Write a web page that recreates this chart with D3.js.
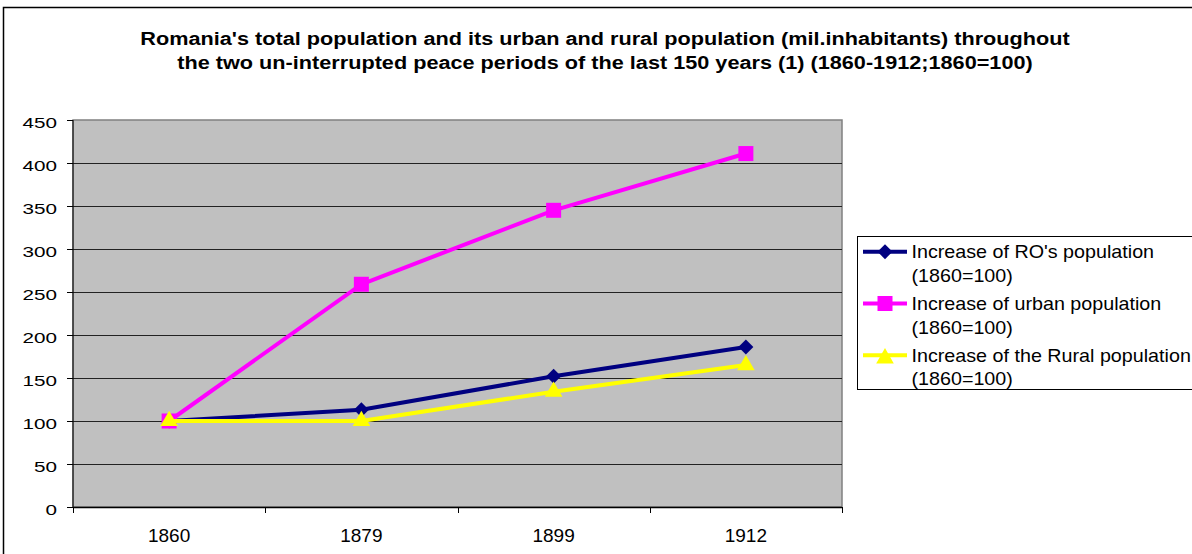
<!DOCTYPE html>
<html>
<head>
<meta charset="utf-8">
<script src="https://cdn.jsdelivr.net/npm/d3@7"></script>
<style>
  html, body { margin: 0; padding: 0; background: #fff; }
  svg { display: block; font-family: "Liberation Sans", Arial, sans-serif; }
</style>
</head>
<body>
<svg id="chart" width="1192" height="554"></svg>
<script>
// Population indices, 1860 = 100
const years = ["1860", "1879", "1899", "1912"];
const totalPop = [100, 113, 152, 186];
const urbanPop = [100, 259, 345, 411];
const ruralPop = [100, 100, 134, 165];
const yTicks = [0, 50, 100, 150, 200, 250, 300, 350, 400, 450];
const titleLines = [
  "Romania's total population and its urban and rural population (mil.inhabitants) throughout",
  "the two un-interrupted peace periods of the last 150 years (1) (1860-1912;1860=100)"
];
const seriesNames = [
  ["Increase of RO's population", "(1860=100)"],
  ["Increase of urban population", "(1860=100)"],
  ["Increase of the Rural population", "(1860=100)"]
];

const svg = d3.select("#chart");

// place a text element at (x, y) with an optional horizontal stretch
function placeText(sel, x, y, sx) {
  return sel.attr("x", 0).attr("y", 0)
    .attr("transform", `translate(${x},${y}) scale(${sx},1)`);
}

// outer chart frame
svg.append("rect")
  .attr("x", 3.5).attr("y", 7.5)
  .attr("width", 1200).attr("height", 560)
  .attr("fill", "#fff").attr("stroke", "#000").attr("stroke-width", 1.5);

// title
svg.append("g").selectAll("text").data(titleLines).join("text")
  .each(function (d, i) { placeText(d3.select(this), 605, 44.5 + i * 24.5, 1.165); })
  .attr("text-anchor", "middle")
  .attr("font-size", 18.6).attr("font-weight", "bold")
  .text(d => d);

const plot = { left: 73, top: 120, right: 842, bottom: 507 };

const x = d3.scaleBand().domain(years).range([plot.left, plot.right]);
const y = d3.scaleLinear().domain([0, 450]).range([plot.bottom, plot.top]);

// plot background
svg.append("rect")
  .attr("x", plot.left).attr("y", plot.top)
  .attr("width", plot.right - plot.left).attr("height", plot.bottom - plot.top)
  .attr("fill", "#c0c0c0").attr("stroke", "#808080").attr("stroke-width", 1.5);

// horizontal gridlines
svg.append("g").selectAll("line").data(yTicks.filter(t => t > 0 && t < 450)).join("line")
  .attr("x1", plot.left).attr("x2", plot.right)
  .attr("y1", d => Math.round(y(d)) + 0.5).attr("y2", d => Math.round(y(d)) + 0.5)
  .attr("stroke", "#222").attr("stroke-width", 1);

// y axis
const yAxis = svg.append("g")
  .attr("transform", `translate(${plot.left},0)`)
  .call(d3.axisLeft(y).tickValues(yTicks).tickSize(6).tickPadding(0));
yAxis.selectAll("line").attr("stroke", "#000");
yAxis.select(".domain").attr("stroke", "#000").attr("d", `M0,${plot.top}V${plot.bottom}`);
yAxis.selectAll(".tick text")
  .attr("font-size", 15.2).attr("fill", "#000")
  .attr("font-family", "Liberation Sans, Arial, sans-serif")
  .attr("dy", null)
  .each(function () { placeText(d3.select(this), -16, 7.5, 1.36); });

// x axis with ticks at category boundaries
const xAxisG = svg.append("g").attr("transform", `translate(0,${plot.bottom})`);
xAxisG.append("line")
  .attr("x1", plot.left).attr("x2", plot.right)
  .attr("y1", 0.5).attr("y2", 0.5).attr("stroke", "#000").attr("stroke-width", 1.5);
const bounds = years.map(d => x(d)).concat([x(years[years.length - 1]) + x.bandwidth()]);
xAxisG.selectAll("line.tick").data(bounds).join("line")
  .attr("class", "tick")
  .attr("x1", d => Math.round(d) + 0.5).attr("x2", d => Math.round(d) + 0.5)
  .attr("y1", 0).attr("y2", 6).attr("stroke", "#000");
xAxisG.selectAll("text").data(years).join("text")
  .attr("x", d => x(d) + x.bandwidth() / 2)
  .attr("y", 35)
  .attr("text-anchor", "middle")
  .attr("font-size", 19)
  .text(d => d);

const cx = d => x(d) + x.bandwidth() / 2;

const series = [
  { values: totalPop, color: "#000080", shape: d3.symbolSquare, size: 112, rotate: 45 },
  { values: urbanPop, color: "#ff00ff", shape: d3.symbolSquare, size: 225, rotate: 0 },
  { values: ruralPop, color: "#ffff00", shape: d3.symbolTriangle, size: 135, rotate: 0 }
];

const line = d3.line().x(d => cx(d.year)).y(d => y(d.value));

// series drawn in legend order, later ones on top
series.forEach(s => {
  const pts = years.map((yr, j) => ({ year: yr, value: s.values[j] }));
  svg.append("path")
    .datum(pts)
    .attr("d", line)
    .attr("fill", "none")
    .attr("stroke", s.color)
    .attr("stroke-width", 4)
    .attr("stroke-linejoin", "round");
  svg.append("g").selectAll("path").data(pts).join("path")
    .attr("transform", d => `translate(${cx(d.year)},${y(d.value)}) rotate(${s.rotate})`)
    .attr("d", d3.symbol().type(s.shape).size(s.size))
    .attr("fill", s.color);
});

// legend
const legend = svg.append("g");
legend.append("rect")
  .attr("x", 857.5).attr("y", 236.5)
  .attr("width", 340).attr("height", 153)
  .attr("fill", "#fff").attr("stroke", "#000").attr("stroke-width", 1);

seriesNames.forEach((names, i) => {
  const s = series[i];
  const rowY = 251.7 + i * 51.8;
  legend.append("line")
    .attr("x1", 863).attr("x2", 907)
    .attr("y1", rowY).attr("y2", rowY)
    .attr("stroke", s.color).attr("stroke-width", 4);
  legend.append("path")
    .attr("transform", `translate(885,${rowY + (i === 2 ? 3 : 0)}) rotate(${s.rotate})`)
    .attr("d", d3.symbol().type(s.shape).size(s.size))
    .attr("fill", s.color);
  legend.append("text")
    .each(function () { placeText(d3.select(this), 911.5, rowY + 6.7, 1.06); })
    .attr("font-size", 18.6).text(names[0]);
  legend.append("text")
    .each(function () { placeText(d3.select(this), 911.5, rowY + 30, 1.06); })
    .attr("font-size", 18.6).text(names[1]);
});
</script>
</body>
</html>
